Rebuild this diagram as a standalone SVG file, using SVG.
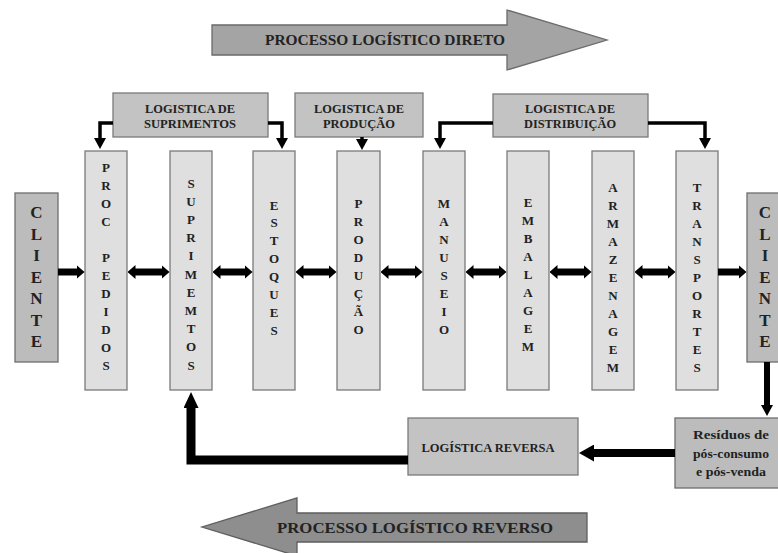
<svg xmlns="http://www.w3.org/2000/svg" width="778" height="553" viewBox="0 0 778 553">
<style>
.col{fill:#dfdfdf;stroke:#7a7a7a;stroke-width:1.3}
.cli{fill:#bcbcbc;stroke:#6e6e6e;stroke-width:1.3}
.lbl{fill:#c3c3c3;stroke:#7a7a7a;stroke-width:1.3}
.t{font-family:"Liberation Serif","Times New Roman",serif;font-weight:bold;fill:#222}
.v{font-size:13px;text-anchor:middle}
.c{font-size:17px;text-anchor:middle}
.l{font-size:11.5px;text-anchor:middle}
.thin{fill:none;stroke:#000;stroke-width:3.5}
.thick{fill:none;stroke:#000;stroke-width:7}
</style>
<defs>
<marker id="ha" viewBox="0 0 11 12" refX="1" refY="6" markerWidth="11" markerHeight="12" markerUnits="userSpaceOnUse" orient="auto"><path d="M0,0 L11,6 L0,12 z" fill="#000"/></marker>
<marker id="hd" viewBox="0 0 8 14" refX="0.5" refY="7" markerWidth="8" markerHeight="14" markerUnits="userSpaceOnUse" orient="auto-start-reverse"><path d="M0,0 L8,7 L0,14 z" fill="#000"/></marker>
<marker id="hb" viewBox="0 0 15 17" refX="1" refY="8.5" markerWidth="15" markerHeight="17" markerUnits="userSpaceOnUse" orient="auto"><path d="M0,0 L15,8.5 L0,17 z" fill="#000"/></marker>
<marker id="hu" viewBox="0 0 16 15" refX="1" refY="7.5" markerWidth="16" markerHeight="15" markerUnits="userSpaceOnUse" orient="auto"><path d="M0,0 L16,7.5 L0,15 z" fill="#000"/></marker>
</defs>

<g id="processo-direto">
<polygon points="212,25 507,25 507,10 607,40 507,70 507,55 212,55" fill="#a4a4a4" stroke="#6a6a6a" stroke-width="1.3"/>
<text class="t" x="385" y="45" font-size="14" text-anchor="middle" textLength="240" lengthAdjust="spacingAndGlyphs">PROCESSO LOGÍSTICO DIRETO</text>
</g>

<g id="processo-reverso">
<polygon points="587,513 297,513 297,498 202,527 297,556 297,542 587,542" fill="#8e8e8e" stroke="#5e5e5e" stroke-width="1.3"/>
<text class="t" x="415" y="533" font-size="15" text-anchor="middle" textLength="276" lengthAdjust="spacingAndGlyphs">PROCESSO LOGÍSTICO REVERSO</text>
</g>

<g id="logistica-suprimentos">
<rect class="lbl" x="113" y="93" width="155" height="44"/>
<text class="t l" x="190" y="113" textLength="90" lengthAdjust="spacingAndGlyphs">LOGISTICA DE</text>
<text class="t l" x="190" y="128" textLength="92" lengthAdjust="spacingAndGlyphs">SUPRIMENTOS</text>
</g>
<g id="logistica-producao">
<rect class="lbl" x="295" y="93" width="128" height="44"/>
<text class="t l" x="359" y="113" textLength="90" lengthAdjust="spacingAndGlyphs">LOGISTICA DE</text>
<text class="t l" x="359" y="128" textLength="72" lengthAdjust="spacingAndGlyphs">PRODUÇÃO</text>
</g>
<g id="logistica-distribuicao">
<rect class="lbl" x="493" y="94" width="155" height="43"/>
<text class="t l" x="570" y="113" textLength="90" lengthAdjust="spacingAndGlyphs">LOGISTICA DE</text>
<text class="t l" x="570" y="128" textLength="92" lengthAdjust="spacingAndGlyphs">DISTRIBUIÇÃO</text>
</g>

<g id="cliente-origem">
<rect class="cli" x="15" y="193" width="43" height="169"/>
<text class="t c" x="36.5" y="218"><tspan x="36.5">C</tspan><tspan x="36.5" dy="21.5">L</tspan><tspan x="36.5" dy="21.5">I</tspan><tspan x="36.5" dy="21.5">E</tspan><tspan x="36.5" dy="21.5">N</tspan><tspan x="36.5" dy="21.5">T</tspan><tspan x="36.5" dy="21.5">E</tspan></text>
</g>

<g id="proc-pedidos">
<rect class="col" x="85" y="151" width="42" height="239"/>
<text class="t v" x="106" y="171.5"><tspan x="106">P</tspan><tspan x="106" dy="18">R</tspan><tspan x="106" dy="18">O</tspan><tspan x="106" dy="18">C</tspan><tspan x="106" dy="36">P</tspan><tspan x="106" dy="18">E</tspan><tspan x="106" dy="18">D</tspan><tspan x="106" dy="18">I</tspan><tspan x="106" dy="18">D</tspan><tspan x="106" dy="18">O</tspan><tspan x="106" dy="18">S</tspan></text>
</g>

<g id="suprimentos">
<rect class="col" x="170" y="151" width="42" height="239"/>
<text class="t v" x="191" y="187.5"><tspan x="191">S</tspan><tspan x="191" dy="18.2">U</tspan><tspan x="191" dy="18.2">P</tspan><tspan x="191" dy="18.2">R</tspan><tspan x="191" dy="18.2">I</tspan><tspan x="191" dy="18.2">M</tspan><tspan x="191" dy="18.2">E</tspan><tspan x="191" dy="18.2">M</tspan><tspan x="191" dy="18.2">T</tspan><tspan x="191" dy="18.2">O</tspan><tspan x="191" dy="18.2">S</tspan></text>
</g>

<g id="estoques">
<rect class="col" x="253" y="151" width="42" height="239"/>
<text class="t v" x="274" y="209.5"><tspan x="274">E</tspan><tspan x="274" dy="17.9">S</tspan><tspan x="274" dy="17.9">T</tspan><tspan x="274" dy="17.9">O</tspan><tspan x="274" dy="17.9">Q</tspan><tspan x="274" dy="17.9">U</tspan><tspan x="274" dy="17.9">E</tspan><tspan x="274" dy="17.9">S</tspan></text>
</g>

<g id="producao">
<rect class="col" x="337" y="151" width="43" height="239"/>
<text class="t v" x="358.5" y="207.5"><tspan x="358.5">P</tspan><tspan x="358.5" dy="18.1">R</tspan><tspan x="358.5" dy="18.1">O</tspan><tspan x="358.5" dy="18.1">D</tspan><tspan x="358.5" dy="18.1">U</tspan><tspan x="358.5" dy="18.1">Ç</tspan><tspan x="358.5" dy="18.1">Ã</tspan><tspan x="358.5" dy="18.1">O</tspan></text>
</g>

<g id="manuseio">
<rect class="col" x="423" y="151" width="42" height="239"/>
<text class="t v" x="444" y="207.5"><tspan x="444">M</tspan><tspan x="444" dy="18.1">A</tspan><tspan x="444" dy="18.1">N</tspan><tspan x="444" dy="18.1">U</tspan><tspan x="444" dy="18.1">S</tspan><tspan x="444" dy="18.1">E</tspan><tspan x="444" dy="18.1">I</tspan><tspan x="444" dy="18.1">O</tspan></text>
</g>

<g id="embalagem">
<rect class="col" x="507" y="151" width="42" height="239"/>
<text class="t v" x="528" y="206.5"><tspan x="528">E</tspan><tspan x="528" dy="18.1">M</tspan><tspan x="528" dy="18.1">B</tspan><tspan x="528" dy="18.1">A</tspan><tspan x="528" dy="18.1">L</tspan><tspan x="528" dy="18.1">A</tspan><tspan x="528" dy="18.1">G</tspan><tspan x="528" dy="18.1">E</tspan><tspan x="528" dy="18.1">M</tspan></text>
</g>

<g id="armazenagem">
<rect class="col" x="592" y="151" width="42" height="239"/>
<text class="t v" x="613" y="191.5"><tspan x="613">A</tspan><tspan x="613" dy="18">R</tspan><tspan x="613" dy="18">M</tspan><tspan x="613" dy="18">A</tspan><tspan x="613" dy="18">Z</tspan><tspan x="613" dy="18">E</tspan><tspan x="613" dy="18">N</tspan><tspan x="613" dy="18">A</tspan><tspan x="613" dy="18">G</tspan><tspan x="613" dy="18">E</tspan><tspan x="613" dy="18">M</tspan></text>
</g>

<g id="transportes">
<rect class="col" x="676" y="151" width="42" height="239"/>
<text class="t v" x="697" y="191.5"><tspan x="697">T</tspan><tspan x="697" dy="18">R</tspan><tspan x="697" dy="18">A</tspan><tspan x="697" dy="18">N</tspan><tspan x="697" dy="18">S</tspan><tspan x="697" dy="18">P</tspan><tspan x="697" dy="18">O</tspan><tspan x="697" dy="18">R</tspan><tspan x="697" dy="18">T</tspan><tspan x="697" dy="18">E</tspan><tspan x="697" dy="18">S</tspan></text>
</g>

<g id="cliente-destino">
<rect class="cli" x="747" y="193" width="40" height="169"/>
<text class="t c" x="765" y="218"><tspan x="765">C</tspan><tspan x="765" dy="21.5">L</tspan><tspan x="765" dy="21.5">I</tspan><tspan x="765" dy="21.5">E</tspan><tspan x="765" dy="21.5">N</tspan><tspan x="765" dy="21.5">T</tspan><tspan x="765" dy="21.5">E</tspan></text>
</g>

<g id="logistica-reversa">
<rect class="lbl" x="408" y="418" width="170" height="57"/>
<text class="t" x="488" y="452" font-size="12" text-anchor="middle" textLength="133" lengthAdjust="spacingAndGlyphs">LOGÍSTICA REVERSA</text>
</g>

<g id="residuos">
<rect class="cli" x="675" y="418" width="110" height="70"/>
<text class="t" x="731" y="439" font-size="11.5" text-anchor="middle" textLength="76" lengthAdjust="spacingAndGlyphs">Resíduos de</text>
<text class="t" x="731" y="458" font-size="11.5" text-anchor="middle" textLength="76" lengthAdjust="spacingAndGlyphs">pós-consumo</text>
<text class="t" x="731" y="476" font-size="11.5" text-anchor="middle" textLength="70" lengthAdjust="spacingAndGlyphs">e pós-venda</text>
</g>

<g id="connectors">
<path class="thin" d="M113,123 H100 V139" marker-end="url(#ha)"/>
<path class="thin" d="M268,123 H282 V139" marker-end="url(#ha)"/>
<path class="thin" d="M362,137 V140" marker-end="url(#ha)"/>
<path class="thin" d="M493,123 H440 V139" marker-end="url(#ha)"/>
<path class="thin" d="M648,123 H705 V139" marker-end="url(#ha)"/>

<line class="thick" x1="58" y1="272" x2="77" y2="272" marker-end="url(#hd)"/>
<line class="thick" x1="135" y1="272" x2="162" y2="272" marker-start="url(#hd)" marker-end="url(#hd)"/>
<line class="thick" x1="220" y1="272" x2="245" y2="272" marker-start="url(#hd)" marker-end="url(#hd)"/>
<line class="thick" x1="303" y1="272" x2="329" y2="272" marker-start="url(#hd)" marker-end="url(#hd)"/>
<line class="thick" x1="388" y1="272" x2="415" y2="272" marker-start="url(#hd)" marker-end="url(#hd)"/>
<line class="thick" x1="473" y1="272" x2="499" y2="272" marker-start="url(#hd)" marker-end="url(#hd)"/>
<line class="thick" x1="557" y1="272" x2="584" y2="272" marker-start="url(#hd)" marker-end="url(#hd)"/>
<line class="thick" x1="642" y1="272" x2="668" y2="272" marker-start="url(#hd)" marker-end="url(#hd)"/>
<line class="thick" x1="718" y1="272" x2="739" y2="272" marker-end="url(#hd)"/>

<line x1="767" y1="362" x2="767" y2="406" stroke="#000" stroke-width="6" marker-end="url(#ha)"/>
<line x1="675" y1="453" x2="593" y2="453" stroke="#000" stroke-width="8" marker-end="url(#hb)"/>
<path d="M408,460 H191 V407" fill="none" stroke="#000" stroke-width="9" marker-end="url(#hu)"/>
</g>
</svg>
